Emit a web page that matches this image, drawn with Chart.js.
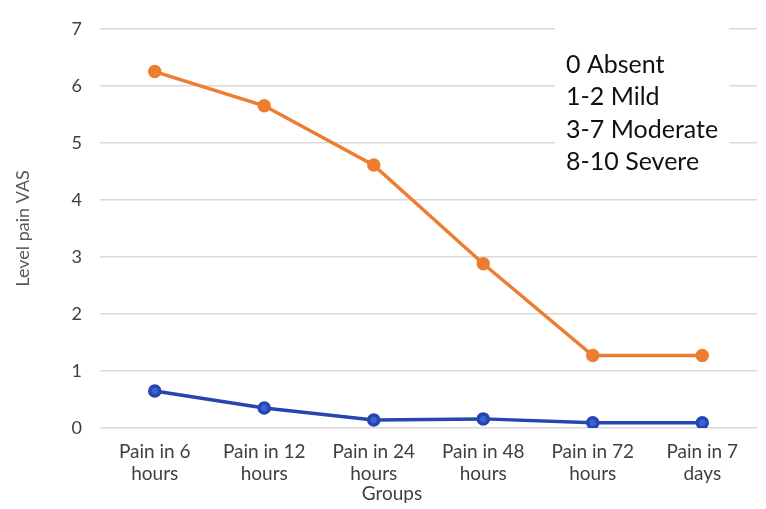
<!DOCTYPE html>
<html>
<head>
<meta charset="utf-8">
<script src="https://cdn.jsdelivr.net/npm/chart.js@4/dist/chart.umd.min.js"></script>
<style>
  html, body { margin: 0; padding: 0; background: #fff; }
  #wrap { width: 766px; height: 509px; }
</style>
</head>
<body>
<div id="wrap"><canvas id="painChart"></canvas></div>
<script>
// categorias e valores
const grupos = [
  ["Pain in 6", "hours"],
  ["Pain in 12", "hours"],
  ["Pain in 24", "hours"],
  ["Pain in 48", "hours"],
  ["Pain in 72", "hours"],
  ["Pain in 7", "days"]
];
const dorLaranja = [6.25, 5.65, 4.61, 2.88, 1.27, 1.27];
const dorAzul = [0.65, 0.35, 0.14, 0.16, 0.09, 0.09];
const escalaVAS = ["0 Absent", "1-2 Mild", "3-7 Moderate", "8-10 Severe"];

const FONTE = "Lato, 'Open Sans', sans-serif";

// caixa de legenda da escala + título "Groups"
const textoExtra = {
  id: 'textoExtra',
  afterDatasetsDraw(chart) {
    const ctx = chart.ctx;
    const area = chart.chartArea;
    ctx.save();
    // caixa branca cobrindo as linhas de grade
    ctx.fillStyle = '#fff';
    ctx.fillRect(area.right - 202, area.top - 2, 174, 160);
    ctx.fillStyle = '#111';
    ctx.font = "25px " + FONTE;
    ctx.textBaseline = 'middle';
    ctx.textAlign = 'left';
    escalaVAS.forEach((t, i) => {
      ctx.fillText(t, area.right - 191, area.top + 36 + i * 32.5);
    });
    // título do eixo x
    ctx.fillStyle = '#404040';
    ctx.font = "19px " + FONTE;
    ctx.textAlign = 'center';
    ctx.fillText("Groups", 392, 494);
    ctx.restore();
  }
};

new Chart(document.getElementById('painChart'), {
  type: 'line',
  data: {
    labels: grupos,
    datasets: [
      {
        label: 'Group 1',
        data: dorLaranja,
        borderColor: '#ED7D31',
        backgroundColor: '#ED7D31',
        borderWidth: 3.5,
        pointRadius: 5,
        pointBorderColor: '#ED7D31',
        pointBackgroundColor: '#ED7D31',
        tension: 0
      },
      {
        label: 'Group 2',
        data: dorAzul,
        borderColor: '#2546B0',
        backgroundColor: '#2546B0',
        borderWidth: 3.5,
        pointRadius: 5,
        pointBorderColor: '#2546B0',
        pointBackgroundColor: '#3A62D6',
        tension: 0
      }
    ]
  },
  options: {
    responsive: true,
    maintainAspectRatio: false,
    animation: false,
    layout: { padding: { top: 27, right: 9, left: 0, bottom: 0 } },
    plugins: {
      legend: { display: false },
      tooltip: { enabled: false }
    },
    scales: {
      x: {
        offset: true,
        grid: { display: false, drawTicks: false },
        border: { display: false },
        ticks: {
          color: '#404040',
          font: { family: FONTE, size: 19, lineHeight: 1.2 },
          padding: 12,
          maxRotation: 0,
          autoSkip: false
        },
        afterFit(scale) { scale.height = 81; }
      },
      y: {
        min: 0,
        max: 7,
        grid: { color: '#D9D9D9', lineWidth: 1.5, drawTicks: false },
        border: { display: false },
        ticks: {
          stepSize: 1,
          color: '#404040',
          font: { family: FONTE, size: 18 },
          padding: 18
        },
        title: {
          display: true,
          text: 'Level pain VAS',
          color: '#595959',
          font: { family: FONTE, size: 18 },
          padding: { top: 12, bottom: 20 }
        },
        afterFit(scale) { scale.width = 100; }
      }
    }
  },
  plugins: [textoExtra]
});
</script>
</body>
</html>
